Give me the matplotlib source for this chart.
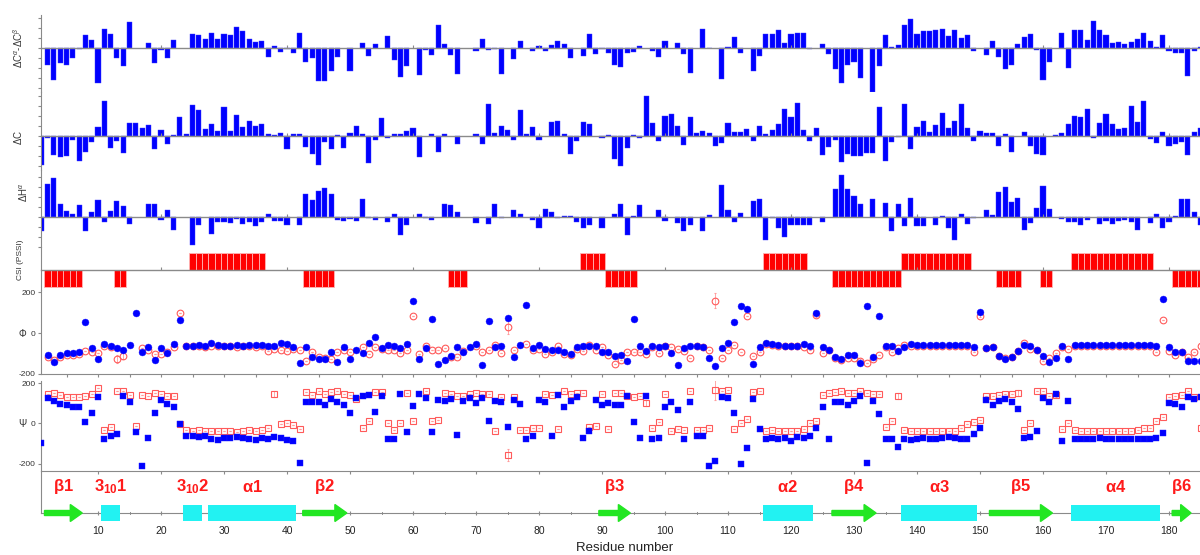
import numpy as np
import matplotlib
matplotlib.use('Agg')
import matplotlib.pyplot as plt
from matplotlib.patches import FancyArrow, Rectangle
from matplotlib.ticker import MultipleLocator

plt.rcParams['font.family'] = ['Liberation Sans', 'DejaVu Sans']
plt.rcParams['mathtext.fontset'] = 'custom'
plt.rcParams['mathtext.rm'] = 'Liberation Sans'
plt.rcParams['mathtext.it'] = 'Liberation Sans:italic'
plt.rcParams['mathtext.bf'] = 'Liberation Sans:bold'

nan = np.nan
residues = np.arange(1, 186)

# secondary chemical shifts (arbitrary units), residue 1..185
d_ca_cb = [nan, -17, -32, -15, -17, -10, -1, 13, 8, -35,
           19, 14, -10, -18, 26, nan, nan, 5, -15, -2,
           -10, 8, nan, nan, 14, 13, 9, 15, 9, 14,
           13, 21, 17, 9, 6, 7, -9, 2, -4, -1,
           -5, 15, -14, -10, -33, -33, -23, -9, nan, -23,
           nan, 5, -8, 4, nan, 12, -12, -29, -18, nan,
           -27, -2, -7, 23, 4, -7, -26, nan, nan, -3,
           9, -2, -1, -26, nan, -11, 7, nan, -3, 2,
           -3, 3, 7, 4, -10, nan, -8, 14, -6, -1,
           -5, -17, -19, -5, -4, 2, nan, -3, -9, 7,
           nan, 5, -6, -25, nan, 19, 0.5, nan, -31, 1,
           11, -5, nan, -23, -8, 14, 14, 18, 5, 14,
           15, 15, -1, nan, 4, -6, -21, -35, -17, -14,
           -30, nan, -44, -18, 13, 1, 3, 23, 29, 14,
           17, 17, 18, 19, 12, 18, 10, 13, -3, nan,
           -7, 7, -9, -21, -17, 4, 11, 14, -2, -32,
           -14, nan, 15, -20, 18, 18, 8, 27, 18, 13,
           5, 6, 4, 6, 9, 15, 7, 1, 13, -3,
           -5, -5, -28, -3, 1]

d_c = [-29, -2, -19, -21, -20, -4, -25, -16, -6, 9,
       35, -12, -5, -17, 13, 13, 8, 11, -13, 6,
       -8, 1, 19, 2, 31, 26, 7, 12, 5, 29,
       5, 21, 9, 15, 10, 12, 2, 1, 3, -13,
       2, 2, -11, -18, -29, -6, -13, 1, -12, 3,
       10, 2, -27, -4, 18, -2, 2, 2, 5, 8,
       -21, nan, 2, -16, 2, nan, -8, nan, nan, 2,
       -8, 32, 3, 10, 6, -4, 26, 2, 9, -4,
       nan, 14, 15, 2, -18, -5, 14, 12, nan, -2,
       1, -23, -30, -12, 1, -2, 40, 13, -5, 20,
       22, 10, -9, 19, 3, 5, 3, -10, -7, 13,
       4, 4, 7, -5, 10, 2, 6, 12, 27, 19,
       33, 6, -5, 8, -19, -11, -4, -26, -18, -20,
       -20, -17, -17, 29, -25, -6, -1, 32, -13, 9,
       15, 4, 11, 23, 8, 15, 32, 8, -5, 5,
       3, 3, -10, 2, -16, nan, 4, -10, -18, -19,
       nan, 1, 3, 12, 20, 19, 27, -2, 13, 22,
       12, 7, 8, 30, 14, 35, -3, -7, 4, -10,
       -8, -6, -19, 4, 8]

d_ha = [-14, 33, 39, 13, 6, 3, 12, -14, 5, 17,
        -5, 6, 16, 11, -7, nan, nan, 13, 13, -3,
        7, -13, nan, nan, -28, -8, nan, -17, -5, -5,
        -6, -2, -7, -5, -9, -5, 3, -4, -4, -8,
        nan, -8, 23, 17, 26, 29, 23, -3, -4, -2,
        -4, 18, -1, -3, nan, -5, 3, -18, -8, nan,
        3, -1, -3, nan, 13, 12, 5, nan, nan, -6,
        nan, -7, 13, -1, nan, 7, 3, nan, -3, -11,
        8, 5, -1, 0.5, 1, -5, -11, -8, nan, -11,
        nan, 3, 13, -18, 0.5, 12, nan, nan, 7, -4,
        nan, -6, -14, -8, nan, -14, 2, nan, 32, 7,
        -5, 4, nan, 16, 18, -23, -1, -11, -20, -8,
        -8, -8, -8, nan, -5, nan, 28, 42, 28, 21,
        13, nan, 18, nan, 14, -14, 13, -9, 19, -9,
        -9, nan, -8, 1, -11, -23, 3, -7, -1, nan,
        7, 2, 25, 30, 15, 19, -13, -6, 9, 31,
        8, nan, -2, -5, -5, -8, -3, nan, -7, -4,
        -7, -4, -3, -5, -13, nan, -6, 3, -11, -5,
        1, 18, 18, 5, -8]

# CSI (PSSI) consensus: helix = +1, strand = -1 (first, last residue)
csi_helix = [(25, 36), (87, 90), (116, 122), (138, 148), (165, 177)]
csi_strand = [(2, 7), (13, 14), (43, 47), (66, 68), (91, 95), (127, 137),
              (153, 156), (160, 161), (181, 185)]

# backbone torsion angles (degrees), residue 1..185
phi_xtal = [nan, -107, -140, -107, -99, -99, -91, 52, -75, -127,
            -54, -62, -75, -83, -59, 96, -91, -67, -132, -75,
            -98, -54, 63, -62, -62, -57, -62, -50, -57, -62,
            -62, -59, -65, -60, -59, -59, -62, -62, -50, -54,
            -67, -148, -67, -115, -127, -127, -94, -140, -67, -127,
            -83, -99, -50, -18, -75, -57, -65, -75, -54, 154,
            -127, -75, 68, -151, -132, -111, -70, -94, -67, -54,
            -156, 57, -67, -62, 72, -115, -59, 138, -75, -57,
            -78, -81, -81, -91, -102, -70, -62, -62, -62, -94,
            -94, -111, -106, -135, 68, -65, -86, -62, -70, -62,
            -99, -156, -75, -62, -62, -70, -122, -161, -75, -50,
            52, 133, 117, -151, -70, -50, -54, -59, -62, -62,
            -65, -54, -62, 98, -67, -83, -115, -127, -106, -107,
            -146, 130, -119, 85, -62, -62, -86, -70, -54, -57,
            -59, -57, -59, -57, -60, -57, -59, -60, -67, 101,
            -75, -70, -114, -127, -115, -89, -59, -62, -83, -114,
            -143, -124, -65, -127, -59, -60, -60, -59, -60, -60,
            -60, -59, -60, -60, -59, -60, -60, -65, 166, -67,
            -94, -94, -135, -135, -138]

phi_talos = [nan, -115, -132, -119, -107, -107, -102, -86, -94, -99,
             -62, -67, -127, -111, nan, nan, -75, -83, -102, -102,
             -91, -67, 96, -65, -65, -65, -67, -65, -65, -65,
             -65, -67, -65, -65, -67, -65, -86, -78, -83, -86,
             -78, -83, -138, -94, -119, -122, -127, -94, -83, -94,
             nan, -70, -102, -67, -78, -83, -83, -99, -81, 85,
             -102, -65, -81, -81, -75, -119, -115, -86, nan, -62,
             -91, -81, -59, -98, 28, -83, nan, -54, -81, -78,
             -102, -94, -65, -102, -107, -78, -86, -59, -83, -67,
             -107, -151, -132, -94, -94, -94, -102, -67, -98, -62,
             -67, -78, -86, -122, -62, -67, -83, 158, -122, -83,
             -57, -94, 81, -111, -94, -54, -60, -62, -62, -62,
             -62, -70, -81, 88, -98, -83, -122, -132, -122, -122,
             -138, -146, -127, -106, -70, -91, -75, -59, -62, -62,
             -65, -62, -65, -62, -65, -62, -65, -62, -94, 85,
             -75, -70, -111, -124, -115, -86, -50, -78, -83, -138,
             -122, -98, -70, -78, -62, -62, -62, -62, -62, -62,
             -62, -62, -62, -62, -62, -62, -62, -91, 63, -86,
             -106, -94, -119, -94, -62]

psi_xtal = [-99, 124, 109, 96, 91, 83, 83, 8, 51, 132,
            -78, -61, -53, 134, 107, -41, -212, -74, 50, 116,
            96, 83, -3, -61, -64, -69, -61, -78, -83, -73,
            -74, -69, -74, -78, -83, -74, -78, -66, -74, -83,
            -86, -197, 104, 104, 104, 93, 121, 107, 93, 50,
            126, 137, 141, 58, 137, -78, -78, 145, -41, 88,
            145, 124, -40, 116, 112, 121, -58, 112, 124, 101,
            124, 10, 112, 104, -17, 116, 96, -78, -61, 116,
            104, -61, 141, 79, 112, 129, -73, -36, 116, 93,
            101, 93, 93, 137, 5, -73, 137, -78, -73, 83,
            107, 68, -78, 104, -61, -61, -208, -185, 132, 124,
            50, -200, -119, 121, -25, -78, -74, -78, -74, -86,
            -66, -74, -61, -20, 83, -78, 107, 107, 93, 112,
            137, -197, 112, 46, -78, -78, -116, -78, -81, -78,
            -73, -78, -78, -74, -66, -74, -78, -78, -53, -23,
            116, 93, 109, 121, 104, 74, -73, -66, -36, 126,
            107, 145, -86, 109, -78, -78, -76, -78, -74, -78,
            -76, -78, -76, -76, -78, -76, -78, -74, -45, 99,
            96, 83, 132, 121, 132]

psi_talos = [nan, 145, 149, 141, 129, 129, 129, 137, 145, 174,
             -31, -17, 159, 159, 141, -12, 141, 137, 149, 145,
             137, 134, -3, -31, -36, -33, -36, -36, -36, -36,
             -36, -40, -36, -33, -36, -33, -20, 145, -3, 0,
             -8, -25, 154, 141, 159, 145, 154, 162, 145, 141,
             121, -23, 10, 154, 154, 0, -31, 0, 149, 13,
             nan, 159, 13, 17, 149, 145, 137, 137, 145, 149,
             145, 145, -36, 132, -155, 132, -31, -31, -23, -23,
             145, 141, -25, 159, 145, 149, 149, -17, -12, 145,
             -25, 149, 149, 137, 132, 137, 99, -23, 5, 145,
             -36, -28, -31, 159, -31, -31, -23, 165, 159, 165,
             -28, 2, 21, 157, 159, -36, -31, -36, -36, -36,
             -36, -28, 0, 10, 141, 149, 154, 162, 149, 149,
             162, 149, 145, 145, -17, 13, 134, -31, -36, -36,
             -36, -36, -36, -36, -36, -36, -23, -3, 5, 18,
             137, 134, 141, 145, 145, 149, -33, 0, 162, 159,
             137, 142, -25, 0, -31, -36, -36, -36, -36, -36,
             -36, -36, -36, -36, -33, -23, -20, 13, 33, 129,
             137, 142, 162, 129, -23]

# TALOS uncertainties shown as error bars (residue: degrees)
phi_err = {13: 18, 14: 15, 75: 35, 108: 35, 124: 10, 131: 10, 150: 8}
psi_err = {38: 15, 75: 30, 97: 15, 108: 50, 137: 15, 156: 15, 162: 12}

# secondary structure: (kind, first, last, label)
ss_elements = [('E', 2, 7, r'$\mathbf{\beta 1}$'),
               ('H', 11, 13, r'$\mathbf{3_{10}1}$'),
               ('H', 24, 26, r'$\mathbf{3_{10}2}$'),
               ('H', 28, 41, r'$\mathbf{\alpha 1}$'),
               ('E', 43, 49, r'$\mathbf{\beta 2}$'),
               ('E', 90, 94, r'$\mathbf{\beta 3}$'),
               ('H', 116, 123, r'$\mathbf{\alpha 2}$'),
               ('E', 127, 133, r'$\mathbf{\beta 4}$'),
               ('H', 138, 149, r'$\mathbf{\alpha 3}$'),
               ('E', 152, 161, r'$\mathbf{\beta 5}$'),
               ('H', 165, 178, r'$\mathbf{\alpha 4}$'),
               ('E', 181, 183, r'$\mathbf{\beta 6}$')]

W, H = 1200, 555
X0 = 41
XLIM = (0.95, 184.92)
GREY = '#8a8a8a'

fig = plt.figure(figsize=(W / 100, H / 100), dpi=100)


def add_ax(top, bottom):
    ax = fig.add_axes([X0 / W, 1 - bottom / H, (W - X0) / W, (bottom - top) / H])
    ax.set_xlim(*XLIM)
    ax.patch.set_alpha(0)
    for s in ['top', 'right']:
        ax.spines[s].set_visible(False)
    ax.spines['left'].set_color(GREY)
    ax.spines['bottom'].set_color(GREY)
    ax.tick_params(colors=GREY, labelcolor='#333333', labelsize=6)
    return ax


def baseline_axis(ax):
    ax.spines['bottom'].set_position(('data', 0))
    ax.spines['bottom'].set_linewidth(1.0)
    ax.set_xticks(range(20, 185, 20))
    ax.tick_params(axis='x', direction='in', length=2, labelbottom=False)
    ax.yaxis.set_major_locator(MultipleLocator(10))
    ax.tick_params(axis='y', direction='out', length=2, labelleft=False)


# 1-3: chemical shift bars
bar_panels = [(d_ca_cb, 15, 92, (-44, 33)),
              (d_c, 92, 170, (-34, 44)),
              (d_ha, 170, 247, (-30.3, 46.7))]
for vals, top, bot, ylim in bar_panels:
    ax = add_ax(top, bot)
    ax.bar(residues, vals, width=0.82, color='#0000ff', edgecolor='#3a3aff', linewidth=0.3)
    ax.set_ylim(*ylim)
    baseline_axis(ax)

fig.text(18 / W, 1 - 48 / H, r'$\Delta$C$^{\alpha}$-$\Delta$C$^{\beta}$', rotation=90,
         ha='center', va='center', fontsize=7, color='#333333')
fig.text(18 / W, 1 - 137 / H, r'$\Delta$C', rotation=90,
         ha='center', va='center', fontsize=7, color='#333333')
fig.text(24 / W, 1 - 192 / H, r'$\Delta$H$^{\alpha}$', rotation=90,
         ha='center', va='center', fontsize=7, color='#333333')

# 4: CSI (PSSI)
csi = np.zeros(len(residues))
for a, b in csi_helix:
    csi[(residues >= a) & (residues <= b)] = 1
for a, b in csi_strand:
    csi[(residues >= a) & (residues <= b)] = -1
ax = add_ax(247, 290)
ax.bar(residues[csi != 0], csi[csi != 0], width=1.0, color='#ff0000',
       edgecolor='#ffb4b4', linewidth=0.6)
ax.set_ylim(-1.156, 1.329)
baseline_axis(ax)
ax.set_yticks([])
fig.text(20 / W, 1 - 260 / H, 'CSI (PSSI)', rotation=90, ha='center', va='center',
         fontsize=6, color='#333333')


def torsion_panel(ax, xtal, talos, err, marker, ms_x, ms_t):
    t = np.array(talos, dtype=float)
    e = np.array([err.get(r, 0) for r in residues], dtype=float)
    ax.errorbar(residues, t, yerr=e, fmt=marker, ms=ms_t, mfc='none', mec='#ff5a5a',
                mew=0.8, ecolor='#ff9a9a', elinewidth=0.6, capsize=1, capthick=0.5,
                zorder=2)
    ax.plot(residues, xtal, marker, ms=ms_x, color='#0000ff', mec='#1a1aff',
            mew=0.3, zorder=3)
    ax.set_yticks([-200, 0, 200])
    ax.set_yticklabels(['-200', '0', '200'])
    ax.tick_params(axis='y', direction='out', length=2, pad=2, labelsize=6)
    ax.xaxis.set_major_locator(MultipleLocator(5))
    ax.tick_params(axis='x', direction='out', length=2, labelbottom=False)


# 5: phi
ax = add_ax(290, 374)
ax.set_ylim(-200, 210)
torsion_panel(ax, phi_xtal, phi_talos, phi_err, 'o', 5.0, 4.8)
fig.text(22 / W, 1 - 334 / H, '\u03a6', ha='center', va='center', fontsize=7,
         color='#333333')

# 6: psi
ax = add_ax(381, 471)
ax.set_ylim(-235, 210)
torsion_panel(ax, psi_xtal, psi_talos, psi_err, 's', 3.8, 4.5)
ax.xaxis.set_major_locator(MultipleLocator(10))
fig.text(22 / W, 1 - 424 / H, '\u03a8', ha='center', va='center', fontsize=7,
         color='#333333')

# 7: secondary structure
ax = add_ax(471, 513)
ax.set_ylim(0, 42)
ax.set_yticks([])
ax.xaxis.set_minor_locator(MultipleLocator(5))
ax.set_xticks(range(10, 185, 10))
ax.tick_params(axis='x', which='major', direction='inout', length=3, pad=7.5,
               labelsize=7.5, labelcolor='#222222')
ax.tick_params(axis='x', which='minor', direction='inout', length=2)
for kind, a, b, lab in ss_elements:
    x0, x1 = a - 0.5, b + 0.5
    if kind == 'H':
        ax.add_patch(Rectangle((x0, -8), x1 - x0, 16, facecolor='#22f2f2',
                               edgecolor='none', clip_on=False, zorder=3))
    else:
        head = min(1.9, 0.55 * (x1 - x0))
        ax.add_patch(FancyArrow(x0, 0, x1 - x0, 0, width=5, head_width=17,
                                head_length=head, length_includes_head=True,
                                color='#22e622', clip_on=False, zorder=3))
    ax.text((x0 + x1) / 2, 26, lab, ha='center', va='center', fontsize=12,
            color='#ff1a1a')

fig.text(625 / W, 1 - 548 / H, 'Residue number', ha='center', va='center',
         fontsize=9.5, color='#222222')

fig.savefig('out.png', dpi=100)
